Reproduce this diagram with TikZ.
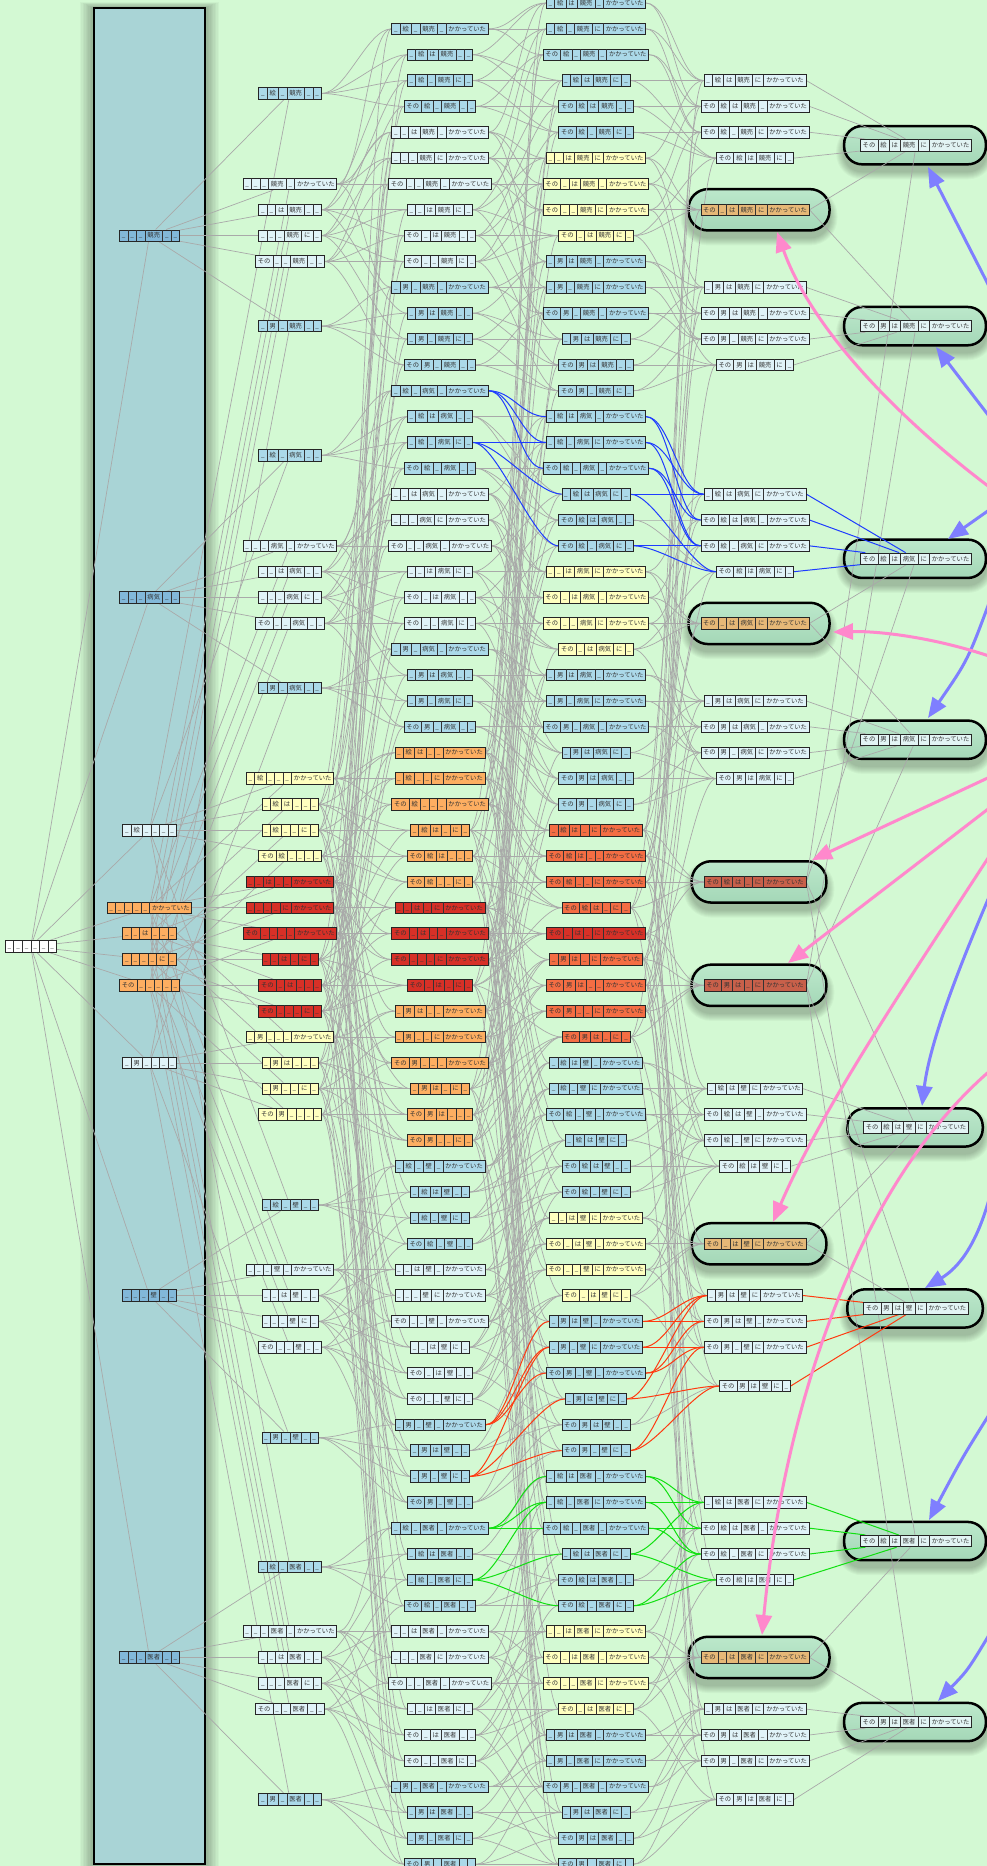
\documentclass[tikz,border=0pt]{standalone}
\usepackage{fontspec}
\setmainfont{Noto Sans CJK JP}
\usetikzlibrary{arrows.meta,calc}
\pgfdeclarelayer{back}
\pgfdeclarelayer{edges}
\pgfdeclarelayer{cedges}
\pgfsetlayers{back,edges,cedges,main}
\definecolor{bgc}{HTML}{D3F9D3}
\definecolor{clus}{HTML}{A9D4D6}
\definecolor{ellt}{HTML}{BCE8CB}
\definecolor{ellb}{HTML}{A4D7B7}
\definecolor{egray}{HTML}{A9A9A9}
\definecolor{eblue}{HTML}{1E3CFF}
\definecolor{ered}{HTML}{FF3A10}
\definecolor{egreen}{HTML}{10E010}
\definecolor{arrblue}{HTML}{7F7FFF}
\definecolor{arrpink}{HTML}{FF88CC}
\definecolor{c0D}{HTML}{FFFFFF}
\definecolor{c1B}{HTML}{82B8D9}
\definecolor{c1C}{HTML}{E0F3F8}
\definecolor{c1D}{HTML}{FDAE61}
\definecolor{c2A}{HTML}{ABD9E9}
\definecolor{c2B}{HTML}{E0F3F8}
\definecolor{c2C}{HTML}{FFFFBF}
\definecolor{c2D}{HTML}{D73027}
\definecolor{c3A}{HTML}{ABD9E9}
\definecolor{c3B}{HTML}{E0F3F8}
\definecolor{c3C}{HTML}{FDAE61}
\definecolor{c3D}{HTML}{D73027}
\definecolor{c4A}{HTML}{ABD9E9}
\definecolor{c4B}{HTML}{FFFFBF}
\definecolor{c4C}{HTML}{F46D43}
\definecolor{c4D}{HTML}{D73027}
\definecolor{c5A}{HTML}{E0F3F8}
\definecolor{c5B}{HTML}{E6B877}
\definecolor{c5C}{HTML}{C8604A}
\definecolor{c6A}{HTML}{E2F4F4}
\newcommand\pfont{\fontsize{6.3}{7}\selectfont}
\newcount\filled
\newif\ifhot
\newif\ifcoled
\newif\ifcpass
\newcommand\Cl[1]{\kern2.2pt#1\kern2.2pt}
\newcommand\Sp{\vrule width0.6pt height8pt depth3.5pt}
\newcommand\cellsof[6]{\vrule width0pt height8pt depth3.5pt%
\Cl{\if#10\_\else その\fi}\Sp
\Cl{\if#20\_\else\if#2e絵\else 男\fi\fi}\Sp
\Cl{\if#30\_\else は\fi}\Sp
\Cl{\if#40\_\else\if#4k競売\else\if#4b病気\else\if#4w壁\else 医者\fi\fi\fi\fi}\Sp
\Cl{\if#50\_\else に\fi}\Sp
\Cl{\if#60\_\else かかっていた\fi}}
\newcommand\countfilled[6]{\filled=0\relax
\if#10\else\advance\filled by 1\relax\fi
\if#20\else\advance\filled by 1\relax\fi
\if#30\else\advance\filled by 1\relax\fi
\if#40\else\advance\filled by 1\relax\fi
\if#50\else\advance\filled by 1\relax\fi
\if#60\else\advance\filled by 1\relax\fi}
\tikzset{
  pat/.style={draw=black!85,line width=0.8pt,inner sep=0pt,font=\pfont,text=black!80},
  barrow/.style={draw=arrblue,line width=3pt,-{Triangle[length=20pt,width=16pt]}},
  parrow/.style={draw=arrpink,line width=3pt,-{Triangle[length=20pt,width=16pt]}}
}
\newcommand\Pn[7]{\countfilled#1#2#3#4#5#6%
\edef\cls{\if#20\if#40D\else B\fi\else\if#40C\else A\fi\fi}%
\edef\ncol{c\the\filled\cls}%
\edef\xx{\ifcase\filled 30.8\or149.5\or290\or440\or596\or755\or916\fi}%
\node[pat,fill=\ncol] (n#1#2#3#4#5#6) at (\xx,{-3-25.85*(#7)}) {\cellsof#1#2#3#4#5#6};}
\newcommand\ColTwo[7]{\Pn0e0#100{#2}\Pn000#101{#3}\Pn001#100{#4}\Pn000#110{#5}\Pn100#100{#6}\Pn0o0#100{#7}}
\newcommand\ColThree[2]{%
\Pn0e0#101{#2}\Pn0e1#100{#2+1}\Pn0e0#110{#2+2}\Pn1e0#100{#2+3}%
\Pn001#101{#2+4}\Pn000#111{#2+5}\Pn100#101{#2+6}\Pn001#110{#2+7}\Pn101#100{#2+8}\Pn100#110{#2+9}%
\Pn0o0#101{#2+10}\Pn0o1#100{#2+11}\Pn0o0#110{#2+12}\Pn1o0#100{#2+13}}
\newcommand\ColFour[2]{%
\Pn0e1#101{#2}\Pn0e0#111{#2+1}\Pn1e0#101{#2+2}\Pn0e1#110{#2+3}\Pn1e1#100{#2+4}\Pn1e0#110{#2+5}%
\Pn001#111{#2+6}\Pn101#101{#2+7}\Pn100#111{#2+8}\Pn101#110{#2+9}%
\Pn0o1#101{#2+10}\Pn0o0#111{#2+11}\Pn1o0#101{#2+12}\Pn0o1#110{#2+13}\Pn1o1#100{#2+14}\Pn1o0#110{#2+15}}
\newcommand\ColFive[5]{%
\Pn0e1#111{#2}\Pn1e1#101{#2+1}\Pn1e0#111{#2+2}\Pn1e1#110{#2+3}%
\Pn101#111{#3}%
\Pn0o1#111{#4}\Pn1o1#101{#4+1}\Pn1o0#111{#4+2}\Pn1o1#110{#5}}
\newcommand\drawedge[7]{%
\ifnum\filled<3
 \draw[draw=\ecol,line width=\ewd] (n#1#2#3#4#5#6) -- (n#7);
\else\ifnum\filled=6
 \draw[draw=\ecol,line width=\ewd] (n#1#2#3#4#5#6.east) -- (n#7);
\else
 \draw[draw=\ecol,line width=\ewd] (n#1#2#3#4#5#6.east) .. controls +(24,0) and +(-24,0) .. (n#7.west);
\fi\fi}
\newcommand\Edge[7]{%
\def\ecol{egray}\def\ewd{0.7pt}\coledfalse\hotfalse
\if#51\hottrue\fi\if#61\hottrue\fi
\ifhot
 \if#2e\if#4b\def\ecol{eblue}\coledtrue\fi\if#4d\def\ecol{egreen}\coledtrue\fi\fi
 \if#2o\if#4w\def\ecol{ered}\coledtrue\fi\fi
\fi
\ifcoled\def\ewd{1pt}\fi
\ifcoled
  \ifcpass\drawedge#1#2#3#4#5#6{#7}\fi
\else
  \ifcpass\else\drawedge#1#2#3#4#5#6{#7}\fi
\fi}
\newcommand\edgesfor[6]{\countfilled#1#2#3#4#5#6%
\if#10\else\Edge0#2#3#4#5#6{#1#2#3#4#5#6}\fi
\if#20\else\Edge#10#3#4#5#6{#1#2#3#4#5#6}\fi
\if#30\else\Edge#1#20#4#5#6{#1#2#3#4#5#6}\fi
\if#40\else\Edge#1#2#30#5#6{#1#2#3#4#5#6}\fi
\if#50\else\Edge#1#2#3#40#6{#1#2#3#4#5#6}\fi
\if#60\else\Edge#1#2#3#4#50{#1#2#3#4#5#6}\fi}
\newcommand\alledges{%
\foreach \va in {0,1}{\foreach \vb in {0,e,o}{\foreach \vc in {0,1}{\foreach \vd in {0,k,b,w,d}{\foreach \ve in {0,1}{\foreach \vf in {0,1}{%
\edef\code{\va\vb\vc\vd\ve\vf}\expandafter\edgesfor\code}}}}}}}
\newcommand\Ell[5]{% node, lpad, rpad, vpad, radius
\foreach \s in {1,...,8}{\pgfmathsetmacro\rr{#5+\s}%
\fill[black,opacity=0.032,rounded corners=\rr pt] ($(#1.south west)+(-#2-\s,-#4-\s-7)$) rectangle ($(#1.north east)+(#3+\s,#4+\s-7)$);}
\draw[line width=2.5pt,top color=ellt,bottom color=ellb,rounded corners=#5 pt] ($(#1.south west)+(-#2,-#4)$) rectangle ($(#1.north east)+(#3,#4)$);}
\begin{document}
\begin{tikzpicture}[x=1pt,y=1pt]
\useasboundingbox (0,0) rectangle (987,-1866);
% ---------- nodes ----------
\Pn000000{36.5}
\Pn000k00{9}\Pn000b00{23}\Pn0e0000{32}\Pn000001{35}\Pn001000{36}\Pn000010{37}\Pn100000{38}\Pn0o0000{41}\Pn000w00{50}\Pn000d00{64}
\ColTwo k{3.5}{7}{8}{9}{10}{12.5}
\ColTwo b{17.5}{21}{22}{23}{24}{26.5}
\ColTwo w{46.5}{49}{50}{51}{52}{55.5}
\ColTwo d{60.5}{63}{64}{65}{66}{69.5}
\Pn0e0001{30}\Pn0e1000{31}\Pn0e0010{32}\Pn1e0000{33}
\Pn001001{34}\Pn000011{35}\Pn100001{36}\Pn001010{37}\Pn101000{38}\Pn100010{39}
\Pn0o0001{40}\Pn0o1000{41}\Pn0o0010{42}\Pn1o0000{43}
\ColThree k{1}
\ColThree b{15}
\ColThree w{45}
\ColThree d{59}
\Pn0e1001{29}\Pn0e0011{30}\Pn1e0001{31}\Pn0e1010{32}\Pn1e1000{33}\Pn1e0010{34}
\Pn001011{35}\Pn101001{36}\Pn100011{37}\Pn101010{38}
\Pn0o1001{39}\Pn0o0011{40}\Pn1o0001{41}\Pn0o1010{42}\Pn1o1000{43}\Pn1o0010{44}
\ColFour k{0}
\ColFour b{16}
\ColFour w{41}
\ColFour d{57}
\Pn0e1011{32}\Pn1e1001{33}\Pn1e0011{34}\Pn1e1010{35}\Pn101011{36}\Pn0o1011{37}\Pn1o1001{38}\Pn1o0011{39}\Pn1o1010{40}
\ColFive k{3}{8}{11}{14}
\ColFive b{19}{24}{27}{30}
\ColFive w{42}{48}{50}{53.5}
\ColFive d{58}{64}{66}{69.5}
\Pn1e1011{34}\Pn1o1011{38}
\Pn1e1k11{5.5}\Pn1o1k11{12.5}\Pn1e1b11{21.5}\Pn1o1b11{28.5}\Pn1e1w11{43.5}\Pn1o1w11{50.5}\Pn1e1d11{59.5}\Pn1o1d11{66.5}
% ---------- background, cluster, ellipses ----------
\begin{pgfonlayer}{back}
\fill[bgc] (0,0) rectangle (987,-1866);
\foreach \s in {1,...,10}{\fill[black,opacity=0.03] (94-1.4*\s,-8+0.6*\s) rectangle (205+1.4*\s,-1864-0.6*\s);}
\draw[line width=2.5pt,fill=clus] (94,-8) rectangle (205,-1864);
\foreach \m in {n101k11,n101b11,n101w11,n101d11,n1e1011,n1o1011}{\Ell{\m}{12}{20}{14.5}{19.5}}
\foreach \m in {n1e1k11,n1o1k11,n1e1b11,n1o1b11,n1e1w11,n1o1w11,n1e1d11,n1o1d11}{\Ell{\m}{16}{14}{13}{18}}
\end{pgfonlayer}
% ---------- edges ----------
\begin{pgfonlayer}{edges}
\cpassfalse
\alledges
\end{pgfonlayer}
\begin{pgfonlayer}{cedges}
\cpasstrue
\alledges
\end{pgfonlayer}
% ---------- external arrows ----------
\begin{scope}
\clip (0,0) rectangle (987,-1866);
\coordinate (b1s) at (992,-292); \coordinate (b1t) at (928,-167);
\coordinate (b2s) at (992,-420); \coordinate (b2t) at (936,-347);
\coordinate (b3s) at (992,-508); \coordinate (b3t) at (948,-539);
\coordinate (b4s) at (992,-595); \coordinate (b4t) at (928,-718);
\coordinate (b5s) at (992,-890); \coordinate (b5t) at (922,-1106);
\coordinate (b6s) at (992,-1188); \coordinate (b6t) at (925,-1288);
\coordinate (b7s) at (992,-1410); \coordinate (b7t) at (929,-1520);
\coordinate (b8s) at (992,-1630); \coordinate (b8t) at (938,-1701);
\draw[barrow] (b1s) -- (b1t);
\draw[barrow] (b2s) -- (b2t);
\draw[barrow] (b3s) -- (b3t);
\draw[barrow] (b4s) .. controls (968,-660) .. (b4t);
\draw[barrow] (b5s) .. controls (962,-960) and (930,-1040) .. (b5t);
\draw[barrow] (b6s) .. controls (978,-1245) and (958,-1268) .. (b6t);
\draw[barrow] (b7s) .. controls (962,-1458) .. (b7t);
\draw[barrow] (b8s) .. controls (968,-1670) .. (b8t);
\coordinate (p1s) at (992,-489); \coordinate (p1t) at (777,-232);
\coordinate (p2s) at (992,-657); \coordinate (p2t) at (833,-632);
\coordinate (p3s) at (992,-776); \coordinate (p3t) at (812,-860);
\coordinate (p4s) at (992,-806); \coordinate (p4t) at (788,-963);
\coordinate (p5s) at (992,-852); \coordinate (p5t) at (773,-1222);
\coordinate (p6s) at (992,-1069); \coordinate (p6t) at (762,-1635);
\draw[parrow] (p1s) .. controls (900,-420) and (812,-330) .. (p1t);
\draw[parrow] (p2s) .. controls (930,-636) and (875,-631) .. (p2t);
\draw[parrow] (p3s) -- (p3t);
\draw[parrow] (p4s) -- (p4t);
\draw[parrow] (p5s) .. controls (912,-975) and (822,-1108) .. (p5t);
\draw[parrow] (p6s) .. controls (850,-1190) and (782,-1425) .. (p6t);
\end{scope}
\end{tikzpicture}
\end{document}
